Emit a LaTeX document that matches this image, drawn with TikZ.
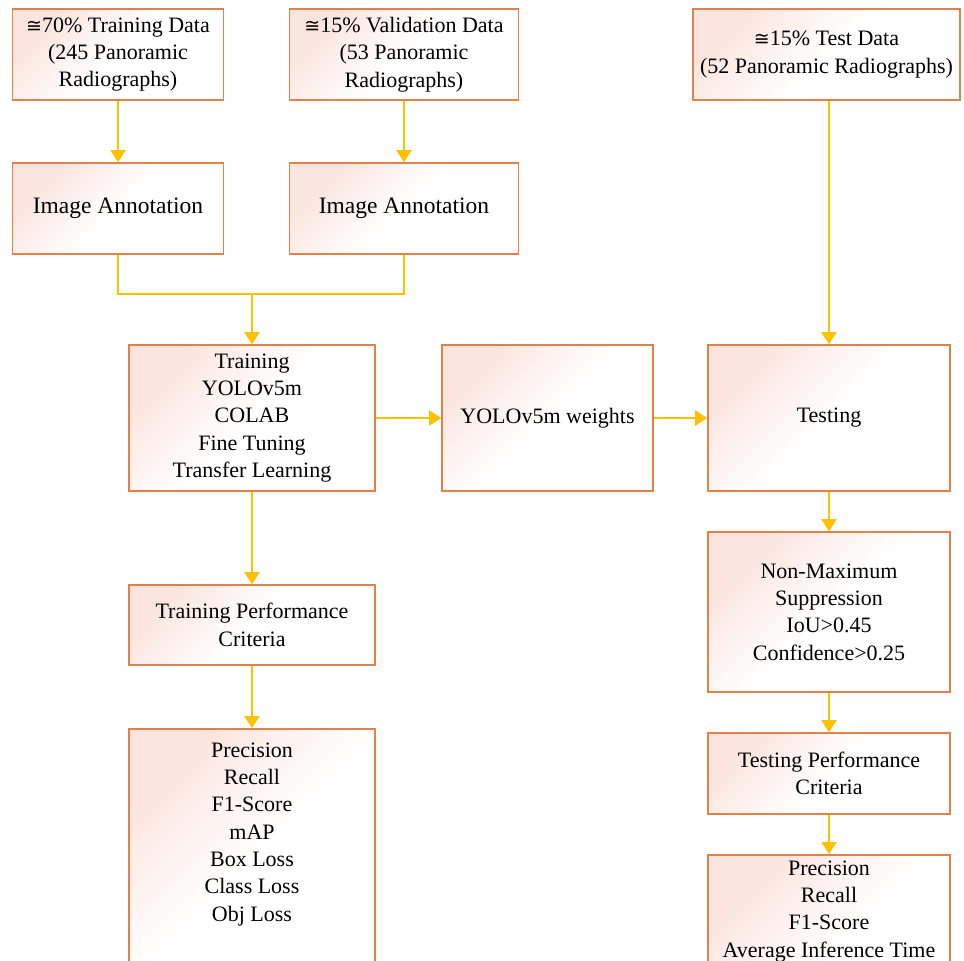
\documentclass[tikz,border=0pt]{standalone}
\usepackage{fontspec}
\setmainfont{Liberation Serif}
\newfontfamily\symfont{DejaVu Sans}
\usepackage{tikz}
\usetikzlibrary{arrows.meta}
\usetikzlibrary{positioning}
\definecolor{boxedge}{RGB}{226,129,72}
\definecolor{boxpink}{RGB}{251,228,221}
\definecolor{linkgold}{RGB}{255,192,0}
\newcommand{\abouteq}{{\symfont\fontsize{19}{27}\selectfont ≅}}
\tikzstyle{box} = [rectangle, draw=boxedge, line width=1.6pt, top color=boxpink, bottom color=white, middle color=white, shading angle=45, align=center, inner sep=0pt, font=\fontsize{22}{27.3}\selectfont]
\tikzstyle{txt} = [align=center, inner sep=0pt, font=\fontsize{22}{27.3}\selectfont]
\tikzstyle{link} = [draw=linkgold, line width=2pt]
\tikzstyle{arr} = [link, -{Triangle[length=12pt,width=15pt]}]

\begin{document}
\begin{tikzpicture}[x=1pt,y=-1pt]
    \clip (0,0) rectangle (964,961);
    % data split
    \node[box, minimum width=211, minimum height=91] (dtrain) at (118,54.5) {\abouteq70\% Training Data\\(245 Panoramic\\Radiographs)};
    \node[box, minimum width=229, minimum height=91] (dval) at (404,54.5) {\abouteq15\% Validation Data\\(53 Panoramic\\Radiographs)};
    \node[box, minimum width=267, minimum height=91] (dtest) at (826.5,54.5) {\abouteq15\% Test Data\\(52 Panoramic Radiographs)};
    \node[box, minimum width=211, minimum height=91, font=\fontsize{23.5}{27}\selectfont] (ann1) at (118,208.5) {Image Annotation};
    \node[box, minimum width=229, minimum height=91, font=\fontsize{23.5}{27}\selectfont] (ann2) at (404,208.5) {Image Annotation};
    \coordinate (merge) at (252,294);
    % middle row
    \node[box, minimum width=246, minimum height=146] (train) at (252,418) {Training\\YOLOv5m\\COLAB\\Fine Tuning\\Transfer Learning};
    \node[box, minimum width=211, minimum height=146] (weights) at (547.5,418) {YOLOv5m weights};
    \node[box, minimum width=242, minimum height=146] (testing) at (829,418) {Testing};
    % training side
    \node[box, minimum width=246, minimum height=80] (trpc) at (252,625) {Training Performance\\Criteria};
    \node[box, minimum width=246, minimum height=260, anchor=north] (trmet) at (252,728) {};
    \node[txt, below=14.5pt of trmet.north] (trlist) {Precision\\Recall\\F1-Score\\mAP\\Box Loss\\Class Loss\\Obj Loss};
    % testing side
    \node[box, minimum width=242, minimum height=160] (nms) at (829,612) {Non-Maximum\\Suppression\\IoU>0.45\\Confidence>0.25};
    \node[box, minimum width=242, minimum height=81] (tepc) at (829,773.5) {Testing Performance\\Criteria};
    \node[box, minimum width=242, minimum height=200, anchor=north] (temet) at (829,854) {};
    \node[txt, below=6.5pt of temet.north] (telist) {Precision\\Recall\\F1-Score\\Average Inference Time};
    % connectors
    \draw[arr] (dtrain) -- (ann1);
    \draw[arr] (dval) -- (ann2);
    \draw[link] (ann1.south) |- (merge) -| (ann2.south);
    \draw[arr] (merge) -- (train);
    \draw[arr] (train) -- (weights);
    \draw[arr] (weights) -- (testing);
    \draw[arr] (testing.north |- dtest.south) -- (testing);
    \draw[arr] (train) -- (trpc);
    \draw[arr] (trpc) -- (trmet);
    \draw[arr] (testing) -- (nms);
    \draw[arr] (nms) -- (tepc);
    \draw[arr] (tepc) -- (temet);
\end{tikzpicture}
\end{document}
